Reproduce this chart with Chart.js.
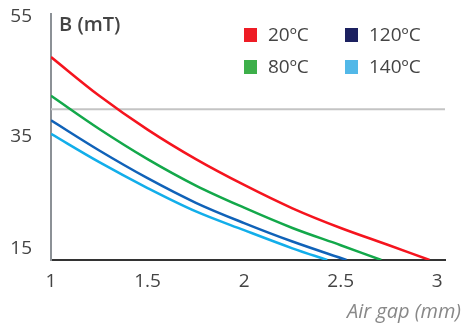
<!DOCTYPE html>
<html>
<head>
<meta charset="utf-8">
<script src="https://cdn.jsdelivr.net/npm/chart.js@4/dist/chart.umd.min.js"></script>
<style>
  html, body { margin: 0; padding: 0; background: #fff; }
  #wrap { position: relative; width: 465px; height: 330px; }
</style>
</head>
<body>
<div id="wrap"><canvas id="c" width="465" height="330"></canvas></div>
<script>
// ---- data ----
const seriesNames = ['20ºC', '80ºC', '120ºC', '140ºC'];
const gap20 = [1, 1.25, 1.5, 1.75, 2, 2.25, 2.5, 2.75, 2.96];
const b20   = [48, 41.7, 36.2, 31.4, 27.2, 23.4, 20.2, 17.4, 15];
const gap80 = [1, 1.25, 1.5, 1.75, 2, 2.25, 2.5, 2.71];
const b80   = [41.7, 36.3, 31.4, 27.1, 23.5, 20.2, 17.4, 15];
const gap120 = [1, 1.25, 1.5, 1.75, 2, 2.25, 2.53];
const b120   = [37.7, 32.8, 28.3, 24.3, 21.0, 18.0, 15];
const gap140 = [1, 1.25, 1.5, 1.75, 2, 2.25, 2.43];
const b140   = [35.5, 30.9, 26.7, 22.9, 19.85, 16.9, 15];
const refLevel = [39.5];
const xTicks = [1, 1.5, 2, 2.5, 3];
const xTickLabels = ['1', '1.5', '2', '2.5', '3'];
const yTicks = [15, 35, 55];
const xRange = [1, 3.04];
const yRange = [15, 55];

// ---- styles ----
const lineColors = ['#f5141e', '#13a84a', '#1062b8', '#12aeea'];
const legendColors = ['#ee1c25', '#3daf4a', '#1c2160', '#52b8e8'];
const FONT = '"Open Sans", "DejaVu Sans", sans-serif';

const pts = (xs, ys) => xs.map((x, i) => ({ x, y: ys[i] }));
const curves = [[gap20, b20], [gap80, b80], [gap120, b120], [gap140, b140]];

const datasets = [{
  label: 'ref',
  data: [{ x: xRange[0], y: refLevel[0] }, { x: xRange[1], y: refLevel[0] }],
  borderColor: '#c4c4c4', borderWidth: 2, pointRadius: 0, order: 10
}].concat(curves.map((c, i) => ({
  label: seriesNames[i],
  data: pts(c[0], c[1]),
  borderColor: lineColors[i],
  borderWidth: 2.5,
  pointRadius: 0,
  tension: 0.35,
  fill: false,
  order: i
})));

const overlay = {
  id: 'overlay',
  afterDraw(chart) {
    const ctx = chart.ctx;
    const ys = chart.scales.y;
    const ca = chart.chartArea;
    ctx.save();
    // y tick labels
    ctx.fillStyle = '#444';
    ctx.font = '19px ' + FONT;
    ctx.textAlign = 'right';
    ctx.textBaseline = 'middle';
    yTicks.forEach(v => {
      let py = ys.getPixelForValue(v);
      py = Math.min(Math.max(py, ca.top + 3), ca.bottom - 11);
      ctx.fillText(String(v), 32, py);
    });
    // y title
    ctx.textAlign = 'left';
    ctx.font = '600 20px ' + FONT;
    ctx.fillText('B (mT)', 59, 25);
    // x title
    ctx.textAlign = 'right';
    ctx.fillStyle = '#888';
    ctx.font = 'italic 20px ' + FONT;
    ctx.fillText('Air gap (mm)', 461, 312);
    // legend (2 x 2): row order 20, 120 / 80, 140
    const layout = [[0, 0, 0], [1, 0, 1], [2, 1, 0], [3, 1, 1]];
    ctx.font = '19px ' + FONT;
    ctx.textAlign = 'left';
    layout.forEach(([i, col, row]) => {
      const bx = col === 0 ? 244 : 345;
      const cy = row === 0 ? 35 : 67;
      ctx.fillStyle = legendColors[i];
      ctx.fillRect(bx, cy - 7, 13, 14);
      ctx.fillStyle = '#444';
      ctx.fillText(seriesNames[i], bx + 24, cy + 1);
    });
    ctx.restore();
  }
};

new Chart(document.getElementById('c'), {
  type: 'line',
  data: { datasets },
  plugins: [overlay],
  options: {
    responsive: false,
    animation: false,
    layout: { padding: { top: 14, right: 20, left: 0, bottom: 0 } },
    plugins: { legend: { display: false }, tooltip: { enabled: false } },
    scales: {
      x: {
        type: 'linear',
        min: xRange[0], max: xRange[1],
        grid: { display: false, drawTicks: false },
        border: { display: true, color: '#333', width: 2 },
        afterBuildTicks: s => { s.ticks = xTicks.map(v => ({ value: v })); },
        afterFit: s => { s.height = 70; },
        ticks: {
          color: '#444', font: { family: FONT, size: 19 }, padding: 10, maxRotation: 0, includeBounds: false,
          callback: (v) => { const k = xTicks.indexOf(v); return k >= 0 ? xTickLabels[k] : ''; }
        }
      },
      y: {
        type: 'linear',
        min: yRange[0], max: yRange[1],
        grid: { display: false, drawTicks: false },
        border: { display: true, color: '#8c9196', width: 2 },
        afterBuildTicks: s => { s.ticks = yTicks.map(v => ({ value: v })); },
        afterFit: s => { s.width = 51; },
        ticks: { display: false }
      }
    }
  }
});
</script>
</body>
</html>
